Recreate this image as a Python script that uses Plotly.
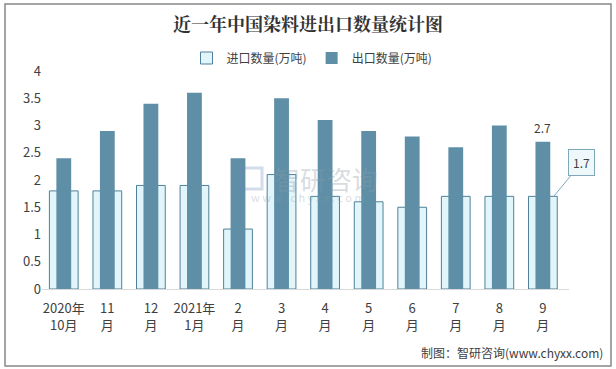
import plotly.graph_objects as go

categories = ["2020年<br>10月", "11<br>月", "12<br>月", "2021年<br>1月", "2<br>月", "3<br>月",
              "4<br>月", "5<br>月", "6<br>月", "7<br>月", "8<br>月", "9<br>月"]
import_vals = [1.8, 1.8, 1.9, 1.9, 1.1, 2.1, 1.7, 1.6, 1.5, 1.7, 1.7, 1.7]
export_vals = [2.4, 2.9, 3.4, 3.6, 2.4, 3.5, 3.1, 2.9, 2.8, 2.6, 3.0, 2.7]
y_ticks = [0, 0.5, 1, 1.5, 2, 2.5, 3, 3.5, 4]

FONT = "Noto Sans CJK SC, sans-serif"
x_idx = list(range(len(categories)))

L, R, T, B = 42, 47, 71, 80
PW, PH = 616 - L - R, 369 - T - B

def px(x):
    return (x - L) / PW

def py(y):
    return (369 - B - y) / PH

fig = go.Figure()
fig.add_trace(go.Bar(
    x=x_idx, y=import_vals, name="进口数量(万吨)", width=0.66,
    marker=dict(color="#E1F5FB", line=dict(color="#4F8099", width=1)),
))
fig.add_trace(go.Bar(
    x=x_idx, y=export_vals, name="出口数量(万吨)", width=0.34,
    marker=dict(color="#5E8FA6", line=dict(width=0)),
))

fig.update_layout(
    width=616, height=369,
    barmode="overlay",
    paper_bgcolor="white", plot_bgcolor="white",
    margin=dict(l=L, r=R, t=T, b=B, autoexpand=False),
    font=dict(family=FONT, color="#404040", size=13),
    title=dict(text="<b>近一年中国染料进出口数量统计图</b>", x=0.5, xanchor="center",
               y=1 - 25 / 369, yanchor="middle",
               font=dict(size=18, color="#333333",
                         family="Noto Serif CJK SC, Noto Sans CJK SC, serif")),
    legend=dict(orientation="h", x=px(312), xanchor="center", y=py(58), yanchor="middle",
                font=dict(size=12, color="#404040"), itemwidth=30, traceorder="normal",
                bgcolor="rgba(0,0,0,0)"),
    showlegend=True,
    xaxis=dict(tickmode="array", tickvals=x_idx, ticktext=categories,
               range=[-0.5, len(categories) - 0.5 + 0.1], showgrid=False, zeroline=False,
               showline=True, linecolor="#D9D9D9", linewidth=1, ticks="",
               ticklabelstandoff=7,
               tickfont=dict(size=13, color="#404040")),
    yaxis=dict(range=[0, 4], tickvals=y_ticks, ticktext=[f"{v:g}" for v in y_ticks],
               showgrid=False, zeroline=False, showline=False, ticks="",
               tickfont=dict(size=13, color="#404040")),
)

# watermark
fig.add_annotation(x=px(326), y=py(178), xref="paper", yref="paper", text="智研咨询", showarrow=False,
                   font=dict(size=26, color="rgba(140,155,170,0.35)"))
fig.add_annotation(x=px(308), y=py(197), xref="paper", yref="paper", text="w w w . c h y x x . c o m",
                   showarrow=False, font=dict(size=11, color="rgba(140,155,170,0.35)"))
fig.add_shape(type="rect", xref="paper", yref="paper", x0=px(241), x1=px(262), y0=py(189), y1=py(168),
              line=dict(color="rgba(110,140,190,0.3)", width=3), fillcolor="rgba(0,0,0,0)")

# label on last export bar
fig.add_annotation(x=x_idx[-1], y=export_vals[-1], text=f"{export_vals[-1]:g}", showarrow=False,
                   yshift=14, font=dict(size=12, color="#404040"))
# callout on last import bar
fig.add_annotation(x=x_idx[-1] + 0.25, y=import_vals[-1], text=f"{import_vals[-1]:g}",
                   showarrow=True, arrowhead=0, arrowcolor="#7FA9BB", arrowwidth=1,
                   ax=28, ay=-34, bgcolor="#EEF8FB", bordercolor="#7FA9BB", borderwidth=1,
                   borderpad=4, font=dict(size=12, color="#404040"))

# source
fig.add_annotation(xref="paper", yref="paper", x=px(605), y=py(352), xanchor="right", yanchor="middle",
                   text="制图：智研咨询(www.chyxx.com)", showarrow=False,
                   font=dict(size=12, color="#404040"))

# outer frame
fig.add_shape(type="rect", xref="paper", yref="paper",
              x0=px(5), x1=px(611), y0=py(366), y1=py(4),
              line=dict(color="#888888", width=1.5), fillcolor="rgba(0,0,0,0)", layer="below")

fig.write_html("out.html", config={"displayModeBar": False},
               post_script="document.body.style.margin='0';document.body.style.overflow='hidden';")
